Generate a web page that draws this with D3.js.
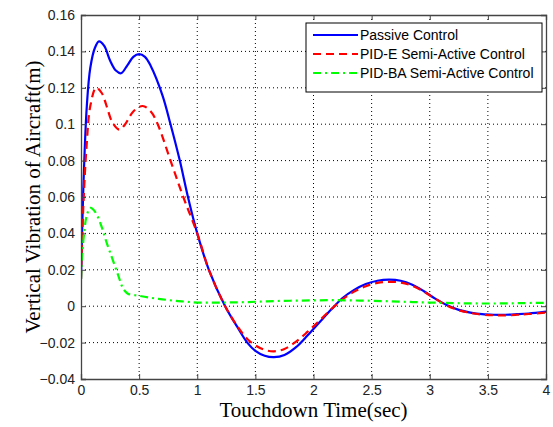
<!DOCTYPE html>
<head>
  <meta charset="utf-8">
  <title>Vertical Vibration of Aircraft</title>
  <script src="https://d3js.org/d3.v7.min.js"></script>
  <style>
    body { margin: 0; background: #fff; }
    .tick text { font-family: "Liberation Sans", Arial, sans-serif; font-size: 14px; fill: #222; }
    .grid line { stroke: #000; stroke-dasharray: 1,3; stroke-width: 1; }
    .axis-label { font-family: "Liberation Serif", "Times New Roman", serif; font-size: 21px; fill: #000; }
    .legend text { font-family: "Liberation Sans", Arial, sans-serif; font-size: 14px; fill: #000; }
  </style>
</head>
<body>
  <svg id="main-svg"></svg>
  <script type="text/javascript">
    const svg_width = 553;
    const svg_height = 427;

    var margin = { top: 15, right: 6, bottom: 48, left: 81 };
    var width = 546 - margin.left;
    var height = 379 - margin.top;

    var passiveT = [0, 0.02, 0.05, 0.08, 0.12, 0.155, 0.2, 0.25, 0.3, 0.345, 0.4, 0.45, 0.5, 0.55, 0.6, 0.7, 0.77, 0.85, 0.92, 1.0, 1.1, 1.24, 1.35, 1.43, 1.5, 1.58, 1.66, 1.75, 1.85, 1.95, 2.05, 2.15, 2.25, 2.35, 2.45, 2.55, 2.65, 2.75, 2.85, 2.95, 3.05, 3.15, 3.25, 3.35, 3.45, 3.55, 3.65, 3.75, 3.85, 4.0];
    var passiveY = [0.015, 0.065, 0.11, 0.131, 0.142, 0.1455, 0.143, 0.135, 0.1295, 0.128, 0.1325, 0.137, 0.1385, 0.137, 0.132, 0.116, 0.1, 0.08, 0.06, 0.04, 0.02, 0, -0.012, -0.02, -0.0245, -0.0272, -0.028, -0.0268, -0.0225, -0.016, -0.009, -0.002, 0.0045, 0.009, 0.0122, 0.014, 0.0146, 0.014, 0.0118, 0.0082, 0.004, 0.0005, -0.002, -0.0035, -0.0044, -0.0047, -0.0047, -0.0044, -0.004, -0.003];

    var pideT = [0, 0.02, 0.05, 0.08, 0.13, 0.18, 0.22, 0.27, 0.33, 0.38, 0.45, 0.53, 0.6, 0.66, 0.77, 0.88, 1.0, 1.1, 1.24, 1.35, 1.43, 1.5, 1.58, 1.66, 1.75, 1.85, 1.95, 2.05, 2.15, 2.25, 2.35, 2.45, 2.55, 2.65, 2.75, 2.85, 2.95, 3.05, 3.15, 3.25, 3.35, 3.45, 3.55, 3.65, 3.75, 3.85, 4.0];
    var pideY = [0.015, 0.055, 0.09, 0.11, 0.12, 0.117, 0.11, 0.101, 0.097, 0.1, 0.107, 0.11, 0.107, 0.1, 0.08, 0.06, 0.04, 0.02, 0, -0.0115, -0.018, -0.0215, -0.024, -0.0248, -0.0235, -0.0195, -0.014, -0.008, -0.0018, 0.0038, 0.008, 0.011, 0.0128, 0.0134, 0.013, 0.0112, 0.008, 0.004, 0.0003, -0.0022, -0.0037, -0.0046, -0.005, -0.005, -0.0047, -0.0043, -0.0035];

    var pidbaT = [0, 0.01, 0.03, 0.05, 0.08, 0.12, 0.17, 0.22, 0.27, 0.32, 0.36, 0.4, 0.5, 0.6, 0.7, 0.8, 0.9, 1.0, 1.2, 1.4, 1.6, 1.8, 2.0, 2.2, 2.4, 2.6, 2.8, 3.0, 3.2, 3.4, 3.6, 3.8, 4.0];
    var pidbaY = [0.015, 0.028, 0.042, 0.05, 0.054, 0.052, 0.045, 0.035, 0.026, 0.017, 0.01, 0.007, 0.0057, 0.0046, 0.0038, 0.003, 0.0025, 0.002, 0.002, 0.0022, 0.0027, 0.003, 0.0032, 0.0033, 0.0031, 0.0028, 0.0024, 0.002, 0.0017, 0.0015, 0.0015, 0.0017, 0.0019];

    var xTicks = [0, 0.5, 1, 1.5, 2, 2.5, 3, 3.5, 4];
    var yTicks = [-0.04, -0.02, 0, 0.02, 0.04, 0.06, 0.08, 0.1, 0.12, 0.14, 0.16];

    var series = [
      { name: "Passive Control", t: passiveT, y: passiveY, color: "#0000ff", dash: null, w: 2.2 },
      { name: "PID-E Semi-Active Control", t: pideT, y: pideY, color: "#ff0000", dash: "8,5", w: 2.2 },
      { name: "PID-BA Semi-Active Control", t: pidbaT, y: pidbaY, color: "#00ff00", dash: "8,4,2,4", w: 2.2 }
    ];

    var x = d3.scaleLinear().domain([0, 4]).range([0, width]);
    var y = d3.scaleLinear().domain([-0.04, 0.16]).range([height, 0]);

    var svg = d3.select("#main-svg")
      .attr("width", svg_width)
      .attr("height", svg_height)
      .append("g")
      .attr("transform", "translate(" + margin.left + "," + margin.top + ")");

    // grid
    svg.append("g")
      .attr("class", "grid")
      .selectAll("line")
      .data(xTicks.slice(1, -1))
      .enter().append("line")
      .attr("x1", function(d) { return x(d); })
      .attr("x2", function(d) { return x(d); })
      .attr("y1", 0)
      .attr("y2", height);

    svg.append("g")
      .attr("class", "grid")
      .selectAll("line")
      .data(yTicks.slice(1, -1))
      .enter().append("line")
      .attr("x1", 0)
      .attr("x2", width)
      .attr("y1", function(d) { return y(d); })
      .attr("y2", function(d) { return y(d); });

    var line = d3.line()
      .x(function(d) { return x(d[0]); })
      .y(function(d) { return y(d[1]); })
      .curve(d3.curveCatmullRom.alpha(0.5));

    svg.append("defs").append("clipPath").attr("id", "clip")
      .append("rect").attr("width", width).attr("height", height);

    series.forEach(function(s) {
      svg.append("path")
        .datum(s.t.map(function(t, i) { return [t, s.y[i]]; }))
        .attr("clip-path", "url(#clip)")
        .attr("fill", "none")
        .attr("stroke", s.color)
        .attr("stroke-width", s.w)
        .attr("stroke-dasharray", s.dash)
        .attr("d", line);
    });

    // axes (ticks inward, like matlab)
    var xAxis = d3.axisBottom(x).tickValues(xTicks).tickSize(-5).tickPadding(6)
      .tickFormat(function(d) { return d3.format("")(d); });
    var yAxis = d3.axisLeft(y).tickValues(yTicks).tickSize(-5).tickPadding(6)
      .tickFormat(function(d) { return d3.format("")(+d.toFixed(2)); });
    var xTop = d3.axisTop(x).tickValues(xTicks).tickSize(-5).tickFormat("");
    var yRight = d3.axisRight(y).tickValues(yTicks).tickSize(-5).tickFormat("");

    svg.append("g").attr("transform", "translate(0," + height + ")").call(xAxis);
    svg.append("g").call(yAxis);
    svg.append("g").call(xTop);
    svg.append("g").attr("transform", "translate(" + width + ",0)").call(yRight);

    svg.selectAll(".domain").attr("stroke", "#444").attr("stroke-width", 1.3);
    svg.selectAll(".tick line").attr("stroke", "#444");

    // labels
    svg.append("text")
      .attr("class", "axis-label")
      .attr("x", width / 2)
      .attr("y", height + 38)
      .attr("text-anchor", "middle")
      .text("Touchdown Time(sec)");

    svg.append("text")
      .attr("class", "axis-label")
      .attr("transform", "rotate(-90)")
      .attr("x", -height / 2)
      .attr("y", -41)
      .attr("text-anchor", "middle")
      .text("Vertical Vibration of Aircraft(m)");

    // legend
    var legend = svg.append("g")
      .attr("class", "legend")
      .attr("transform", "translate(" + (306 - margin.left) + "," + (23 - margin.top) + ")");

    legend.append("rect")
      .attr("width", 236)
      .attr("height", 69)
      .attr("fill", "#fff")
      .attr("stroke", "#000")
      .attr("stroke-width", 1);

    var item = legend.selectAll(".item")
      .data(series)
      .enter().append("g")
      .attr("class", "item")
      .attr("transform", function(d, i) { return "translate(0," + (12 + i * 19) + ")"; });

    item.append("line")
      .attr("x1", 7)
      .attr("x2", 52)
      .attr("stroke", function(d) { return d.color; })
      .attr("stroke-width", 2)
      .attr("stroke-dasharray", function(d) { return d.dash; });

    item.append("text")
      .attr("x", 54)
      .attr("dy", "0.35em")
      .text(function(d) { return d.name; });
  </script>
</body>
